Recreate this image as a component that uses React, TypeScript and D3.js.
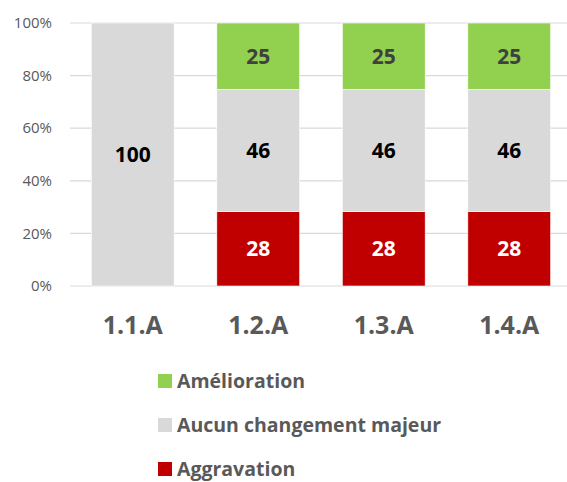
import React from "react";
import * as d3 from "d3";

const categories = ["1.1.A", "1.2.A", "1.3.A", "1.4.A"];
const aggravation = [0, 28, 28, 28];
const aucun = [100, 46, 46, 46];
const amelioration = [0, 25, 25, 25];
const seriesNames = ["Aggravation", "Aucun changement majeur", "Amélioration"];
const yTicks = [0, 0.2, 0.4, 0.6, 0.8, 1];

const colors: Record<string, string> = {
  "Aggravation": "#C00000",
  "Aucun changement majeur": "#D9D9D9",
  "Amélioration": "#92D050",
};
const labelColors: Record<string, string> = {
  "Aggravation": "#FFFFFF",
  "Aucun changement majeur": "#000000",
  "Amélioration": "#404040",
};

const W = 567, H = 482;
const font = "'Open Sans', 'DejaVu Sans', sans-serif";

export default function App() {
  const rows = categories.map((c, i) => ({
    cat: c,
    "Aggravation": aggravation[i],
    "Aucun changement majeur": aucun[i],
    "Amélioration": amelioration[i],
  }));
  const stack = d3.stack<any>().keys(seriesNames).offset(d3.stackOffsetExpand);
  const layers = stack(rows);

  const x = d3.scaleBand().domain(categories).range([70, 572]).paddingInner(0.34).paddingOuter(0.17);
  const y = d3.scaleLinear().domain([0, 1]).range([286, 23]);

  const legendOrder = ["Amélioration", "Aucun changement majeur", "Aggravation"];

  return (
    <svg width={W} height={H} style={{ position: "absolute", left: 0, top: 0, background: "#fff" }} fontFamily={font}>
      {yTicks.map((t) => (
        <g key={t}>
          <line x1={70} x2={W} y1={y(t)} y2={y(t)} stroke="#D9D9D9" strokeWidth={1.2} />
          <text x={52} y={y(t)} dy="0.35em" textAnchor="end" fontSize={15} fill="#595959">
            {d3.format(".0%")(t)}
          </text>
        </g>
      ))}
      {layers.map((layer) =>
        layer.map((d, i) => {
          const v = (rows[i] as any)[layer.key];
          if (!v) return null;
          const y0 = y(d[0]), y1 = y(d[1]);
          const cx = x(categories[i])! + x.bandwidth() / 2;
          return (
            <g key={layer.key + i}>
              <rect x={x(categories[i])} y={y1} width={x.bandwidth()} height={y0 - y1}
                fill={colors[layer.key]} stroke="#ffffff" strokeWidth={0.6} />
              <text x={cx} y={(y0 + y1) / 2} dy="0.36em" textAnchor="middle" fontSize={21}
                fontWeight="bold" fill={labelColors[layer.key]}>{v}</text>
            </g>
          );
        })
      )}
      {categories.map((c) => (
        <text key={c} x={x(c)! + x.bandwidth() / 2} y={325} dy="0.36em" textAnchor="middle"
          fontSize={25} fontWeight="bold" fill="#595959">{c}</text>
      ))}
      {legendOrder.map((k, i) => (
        <g key={k} transform={`translate(158, ${381 + i * 44})`}>
          <rect x={0} y={-7} width={14} height={14} fill={colors[k]} />
          <text x={19} y={0} dy="0.36em" fontSize={19.5} fontWeight="bold" fill="#595959">{k}</text>
        </g>
      ))}
    </svg>
  );
}
